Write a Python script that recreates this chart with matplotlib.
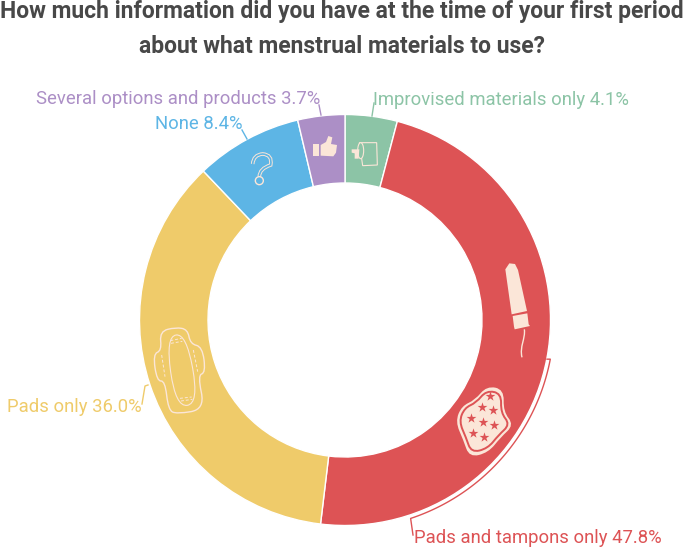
import numpy as np
import matplotlib
matplotlib.use('Agg')
import matplotlib.pyplot as plt
from matplotlib.path import Path
from matplotlib.patches import PathPatch, Circle, Polygon, Ellipse

W, H = 685, 549

categories = ['Improvised materials only', 'Pads and tampons only', 'Pads only', 'None',
              'Several options and products']
values = [4.1, 47.8, 36.0, 8.4, 3.7]
colors = ['#8CC4A6', '#DD5355', '#EFCB6A', '#5DB5E5', '#AC8FC6']
title_lines = ['How much information did you have at the time of your first period',
               'about what menstrual materials to use?']
CREAM = '#FBE6D8'
CX, CY, R_OUT, R_IN = 345, 320, 205.5, 137

plt.rcParams['font.family'] = ['Roboto', 'DejaVu Sans']
fig = plt.figure(figsize=(W / 100, H / 100), dpi=100)
ax = fig.add_axes([0, 0, 1, 1])


def Y(y):
    return H - y


def pts(p, ox=0, oy=0, s=1 / 3):
    # zoomed picture coords -> plot coords
    return [(ox + x * s, Y(oy + y * s)) for x, y in p]


def smooth(p):
    # closed quadratic spline through the midpoints
    p = np.array(p, dtype=float)
    n = len(p)
    verts = [(p[0] + p[1]) / 2]
    codes = [Path.MOVETO]
    for i in range(1, n + 1):
        verts += [p[i % n], (p[i % n] + p[(i + 1) % n]) / 2]
        codes += [Path.CURVE3, Path.CURVE3]
    return Path(verts, codes)


ax.pie(values, colors=colors, startangle=90, counterclock=False, center=(CX, Y(CY)), radius=R_OUT,
       wedgeprops=dict(width=R_OUT - R_IN, edgecolor='white', linewidth=1.0), frame=True)
ax.set_xlim(0, W)
ax.set_ylim(0, H)
ax.set_aspect('equal')
ax.axis('off')

# title
for i, line in enumerate(title_lines):
    ax.text(342, Y(18 + i * 35), line, ha='center', va='baseline', fontsize=16.5, fontweight='bold',
            color='#484848')

# labels
FS = 13.3
ax.text(36, Y(99), f'{categories[4]} {values[4]}%', color=colors[4], fontsize=FS, va='center')
ax.text(373, Y(100), f'{categories[0]} {values[0]}%', color=colors[0], fontsize=FS, va='center')
ax.text(155, Y(124), f'{categories[3]} {values[3]}%', color=colors[3], fontsize=FS, va='center')
ax.text(7, Y(407), f'{categories[2]} {values[2]:.1f}%', color=colors[2], fontsize=FS, va='center')
ax.text(414, Y(538), f'{categories[1]} {values[1]}%', color=colors[1], fontsize=FS, va='center')

# leader lines
ax.plot([319, 321], [Y(105), Y(115)], color=colors[4], lw=1)
ax.plot([374, 372], [Y(103), Y(116)], color=colors[0], lw=1)
ax.plot([242, 247], [Y(130), Y(139)], color=colors[3], lw=1)
ax.plot([148, 145, 142], [Y(385), Y(386), Y(404)], color=colors[2], lw=1)

# bracket round the red slice
a = np.radians(np.linspace(-10.8, -71.7, 80))
bx = CX + 209 * np.cos(a)
by = Y(CY) + 209 * np.sin(a)
ax.plot(np.r_[547, bx, 413], np.r_[by[0], by, Y(535)], color=colors[1], lw=1)

# tampon
ax.add_patch(Polygon(pts([(226, 118), (238, 100), (255, 102), (264, 120), (291, 243), (245, 253)], 430, 230),
                     fc=CREAM, ec='none'))
ax.add_patch(Polygon(pts([(248, 258), (292, 250), (296, 283), (300, 288), (254, 298), (252, 290)], 430, 230),
                     fc=CREAM, ec='none'))
sx = pts([(283, 298), (287, 325), (268, 350), (276, 382)], 430, 230)
ax.add_patch(PathPatch(Path(sx, [Path.MOVETO, Path.CURVE4, Path.CURVE4, Path.CURVE4]), fc='none', ec=CREAM, lw=1))

# pad with stars
blob = [(110, 18), (162, 28), (160, 95), (192, 135), (152, 172), (115, 218), (58, 232), (40, 180), (16, 125),
        (35, 78), (75, 60)]
ax.add_patch(PathPatch(smooth(pts(blob, 450, 380)), fc=CREAM, ec='none'))
c = np.mean(blob, axis=0)
ax.add_patch(PathPatch(smooth(pts([c + (np.array(q) - c) * 0.87 for q in blob], 450, 380)),
                       fc='none', ec=colors[1], lw=1.4))
stars = pts([(95, 80), (128, 90), (62, 115), (99, 125), (133, 135), (68, 158), (103, 170), (120, 48)], 450, 380)
ax.scatter([q[0] for q in stars], [q[1] for q in stars], marker='*', s=55, color=colors[1], lw=0, zorder=3)

# sanitary pad, outline only
pad = [(92, 22), (128, 28), (136, 72), (172, 80), (182, 158), (158, 166), (180, 268), (95, 282), (70, 270),
       (60, 182), (36, 184), (24, 102), (50, 92), (44, 34)]
ax.add_patch(PathPatch(smooth(pts(pad, 145, 320)), fc='none', ec=CREAM, lw=1))
inner = [(62, 50), (124, 40), (162, 250), (92, 262)]
ax.add_patch(PathPatch(smooth(pts(inner, 145, 320)), fc='none', ec=CREAM, lw=0.8))
for q in ([(76, 62), (110, 55)], [(78, 70), (112, 64)], [(105, 235), (140, 231)], [(108, 243), (142, 238)],
          [(50, 105), (60, 170)], [(145, 90), (158, 155)]):
    q = pts(q, 145, 320)
    ax.plot([q[0][0], q[1][0]], [q[0][1], q[1][1]], color=CREAM, lw=0.7, ls=(0, (3, 2)))

# question mark
qm = pts([(158, 252), (160, 224), (188, 222), (218, 224), (212, 255), (178, 266), (178, 290)], 200, 80)
qcodes = [Path.MOVETO, Path.CURVE3, Path.CURVE3, Path.CURVE3, Path.CURVE3, Path.CURVE3, Path.CURVE3]
ax.add_patch(PathPatch(Path(qm, qcodes), fc='none', ec=CREAM, lw=2.6))
ax.add_patch(PathPatch(Path(qm, qcodes), fc='none', ec=colors[3], lw=1.2))
ax.add_patch(Circle(pts([(178, 302)], 200, 80)[0], 4, fc='none', ec=CREAM, lw=1.0))

# thumbs up
ax.add_patch(Polygon(pts([(340, 192), (358, 192), (358, 227), (340, 227)], 200, 80), fc=CREAM, ec='none'))
ax.add_patch(Polygon(pts([(362, 195), (378, 186), (385, 168), (397, 172), (393, 192), (411, 195), (408, 218),
                          (400, 229), (362, 227)], 200, 80), fc=CREAM, ec='none'))

# toilet roll and hand
ax.add_patch(Polygon(pts([(478, 188), (530, 188), (532, 255), (488, 257)], 200, 80), fc='none', ec=CREAM, lw=0.8))
ex, ey = pts([(482, 212)], 200, 80)[0]
ax.add_patch(Ellipse((ex, ey), 6, 16, fc=colors[0], ec=CREAM, lw=0.8))
ax.add_patch(Polygon(pts([(455, 208), (478, 208), (476, 236), (464, 236), (464, 220), (455, 218)], 200, 80),
                     fc=CREAM, ec='none'))

fig.savefig('out.png', dpi=100)
